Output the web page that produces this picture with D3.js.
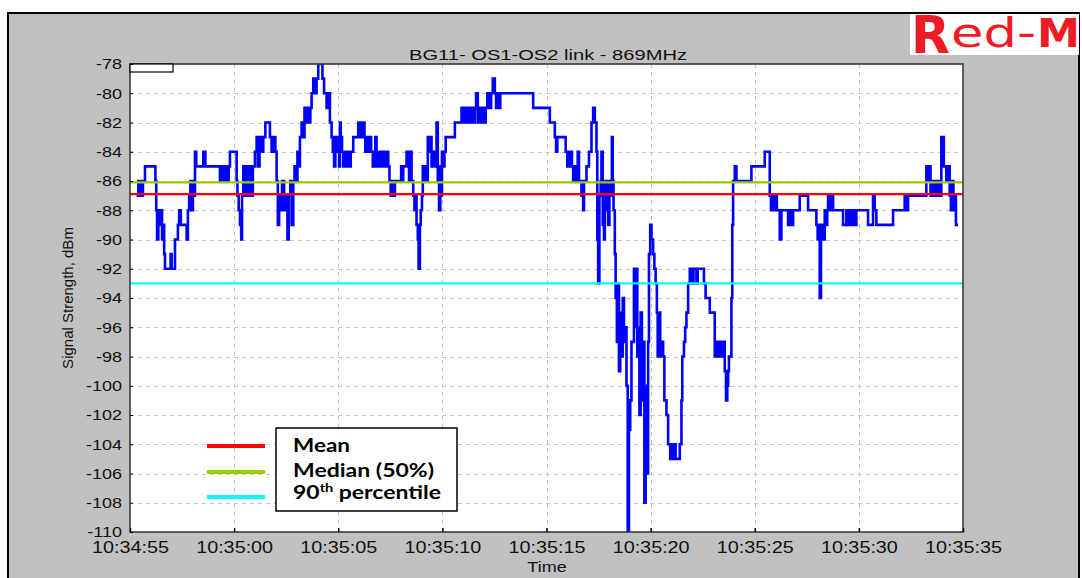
<!DOCTYPE html>
<html>
<head>
<meta charset="utf-8">
<script src="https://cdn.jsdelivr.net/npm/d3@7"></script>
<style>
  html, body { margin: 0; padding: 0; background: #ffffff; }
  svg { display: block; }
</style>
</head>
<body>
<svg id="chart" width="1082" height="578" font-family="'Liberation Sans', Arial, sans-serif"></svg>
<script>
// ---------------- DATA ----------------
const chartTitle = "BG11- OS1-OS2 link - 869MHz";
const yAxisTitle = "Signal Strength, dBm";
const xAxisTitle = "Time";
const startTime = "10:34:55";
const xTickLabels = ["10:34:55","10:35:00","10:35:05","10:35:10","10:35:15","10:35:20","10:35:25","10:35:30","10:35:35"];
const yTickValues = [-78,-80,-82,-84,-86,-88,-90,-92,-94,-96,-98,-100,-102,-104,-106,-108,-110];

// seconds after 10:34:55
const sampleSeconds = [
0.32,0.40,0.44,0.52,0.56,0.62,0.72,1.22,1.26,1.30,1.36,1.42,1.48,1.54,1.60,1.64,1.68,1.95,2.00,2.16,
2.30,2.36,2.44,2.72,2.78,2.84,2.90,2.96,3.02,3.08,3.12,3.18,3.52,3.62,4.32,4.38,4.44,4.50,4.56,4.62,
4.68,4.74,4.80,5.12,5.16,5.22,5.28,5.34,5.38,5.44,5.52,5.58,5.68,5.74,5.84,5.90,6.00,6.08,6.14,6.22,
6.30,6.40,6.50,6.72,6.80,6.90,6.98,7.04,7.10,7.16,7.22,7.30,7.40,7.50,7.56,7.62,7.70,7.76,7.84,7.90,
7.96,8.04,8.10,8.16,8.24,8.32,8.38,8.46,8.52,8.58,8.66,8.72,8.80,8.90,8.96,9.04,9.24,9.32,9.44,9.52,
9.60,9.68,9.74,9.80,9.86,9.96,10.04,10.08,10.12,10.18,10.24,10.30,10.36,10.44,10.52,10.60,10.72,10.96,11.02,11.14,
11.18,11.22,11.26,11.30,11.36,11.42,11.50,11.58,11.66,11.72,11.78,11.84,11.90,11.96,12.02,12.10,12.18,12.26,12.34,12.40,
12.46,12.52,12.60,12.66,12.72,13.02,13.08,13.12,13.28,13.34,13.40,13.46,13.52,13.60,13.66,13.72,13.76,13.82,13.86,13.92,
13.96,14.02,14.06,14.12,14.18,14.24,14.30,14.38,14.44,14.48,14.56,14.62,14.68,14.72,14.78,14.84,14.90,14.94,14.98,15.04,
15.10,15.16,15.60,15.92,16.00,16.08,16.16,16.24,16.32,16.40,16.48,16.56,16.62,16.70,16.76,16.84,16.92,17.00,17.08,17.16,
17.28,17.34,17.42,17.52,17.58,17.64,17.72,17.78,19.36,20.16,20.40,20.46,20.52,20.92,21.00,21.04,21.10,21.16,21.22,21.28,
21.36,21.42,21.50,21.56,21.68,21.76,21.80,21.92,22.04,22.16,22.24,22.32,22.40,22.44,22.48,22.54,22.60,22.64,22.70,22.76,
22.80,22.84,22.90,22.96,23.02,23.08,23.14,23.18,23.22,23.28,23.32,23.38,23.44,23.48,23.54,23.60,23.66,23.72,23.78,23.84,
23.90,23.96,24.02,24.08,24.20,24.28,24.32,24.36,24.42,24.46,24.52,24.58,24.64,24.70,24.76,24.82,24.88,24.92,24.98,25.04,
25.12,25.18,25.24,25.30,25.34,25.40,25.46,25.52,25.60,25.66,25.76,25.84,25.94,26.00,26.06,26.14,26.20,26.40,26.48,26.52,
26.60,26.66,26.72,26.80,26.88,27.00,27.06,27.20,27.26,27.56,27.64,27.84,28.08,28.14,28.24,28.30,28.40,28.46,28.56,28.62,
28.68,28.72,28.76,28.88,28.92,28.96,29.04,29.12,29.84,30.48,30.72,30.78,30.88,30.94,31.00,31.06,31.20,31.28,31.60,31.70,
31.74,31.84,32.16,32.56,32.96,33.02,33.08,33.12,33.18,33.24,33.30,33.36,33.42,33.48,33.52,33.60,33.66,33.76,34.24,34.40,
34.48,34.56,34.64,34.72,34.80,34.88,35.44,35.68,35.76,35.84,36.64,37.20,37.28,37.36,38.24,38.30,38.36,38.44,38.48,38.54,
38.64,38.70,38.80,38.88,38.96,39.08,39.20,39.26,39.36,39.42,39.48,39.54,39.60,39.66,39.76
];
const signalDbm = [
-87,-86,-87,-86,-87,-86,-85,-86,-88,-90,-88,-89,-88,-90,-89,-91,-92,-91,-92,-90,
-89,-88,-89,-90,-88,-87,-86,-88,-86,-87,-84,-85,-84,-85,-86,-85,-86,-85,-86,-85,
-86,-85,-84,-86,-87,-88,-89,-90,-87,-85,-87,-85,-87,-85,-87,-85,-84,-83,-85,-83,
-84,-83,-82,-83,-84,-83,-84,-86,-89,-87,-88,-86,-88,-87,-90,-87,-86,-89,-86,-85,
-86,-84,-85,-83,-82,-83,-81,-82,-81,-82,-81,-80,-79,-80,-79,-78,-79,-80,-81,-80,
-82,-83,-84,-85,-83,-84,-85,-82,-83,-84,-85,-84,-85,-84,-85,-84,-83,-82,-83,-82,
-83,-82,-83,-84,-83,-84,-83,-84,-85,-84,-83,-85,-84,-85,-84,-85,-84,-85,-84,-85,
-86,-87,-86,-87,-86,-85,-86,-85,-84,-85,-86,-84,-86,-87,-88,-87,-89,-90,-92,-89,
-88,-87,-85,-86,-85,-86,-83,-84,-83,-85,-84,-85,-84,-82,-86,-88,-85,-87,-84,-85,
-84,-83,-82,-81,-82,-81,-82,-81,-82,-81,-82,-81,-80,-82,-81,-82,-81,-82,-81,-80,
-81,-80,-79,-80,-81,-80,-81,-80,-81,-82,-83,-84,-83,-84,-85,-84,-85,-84,-85,-86,
-85,-86,-84,-86,-87,-88,-86,-85,-84,-82,-81,-82,-84,-90,-93,-87,-86,-84,-89,-90,
-86,-88,-86,-89,-86,-87,-83,-86,-88,-91,-94,-97,-93,-99,-95,-98,-94,-97,-96,-100,
-110,-103,-101,-97,-92,-96,-92,-98,-96,-102,-95,-101,-97,-108,-100,-106,-97,-91,-89,-90,
-91,-92,-93,-95,-98,-95,-98,-97,-98,-101,-102,-104,-105,-104,-105,-104,-105,-104,-101,-98,
-97,-96,-95,-93,-92,-93,-92,-93,-92,-93,-94,-95,-98,-97,-98,-97,-98,-97,-99,-101,
-100,-99,-98,-94,-89,-86,-85,-86,-85,-84,-87,-88,-87,-88,-87,-88,-90,-88,-89,-88,
-89,-88,-87,-88,-89,-90,-89,-94,-90,-89,-90,-88,-89,-88,-87,-88,-87,-88,-89,-88,
-89,-88,-89,-88,-89,-88,-89,-87,-88,-89,-88,-87,-88,-87,-85,-86,-85,-87,-86,-87,
-86,-87,-86,-87,-83,-85,-86,-85,-87,-88,-86,-88,-87,-89,-89
];

const refNames  = ["Mean", "Median (50%)", "90th percentile"];
const refValues = [-86.9, -86.1, -93.0];
const refColors = ["#ff0000", "#99cc00", "#00ffff"];

// ---------------- LAYOUT ----------------
const svg = d3.select("#chart");
const W = 1082, H = 578;
const plot = { left: 130, top: 64, right: 963, bottom: 532 };

function stretch(sel, k) {
  sel.each(function () {
    const w = this.getComputedTextLength();
    d3.select(this).attr("textLength", w * k).attr("lengthAdjust", "spacingAndGlyphs");
  });
}

// outer frame
svg.append("rect").attr("x", 0).attr("y", 0).attr("width", W).attr("height", H).attr("fill", "#ffffff");
svg.append("rect").attr("x", 8).attr("y", 13).attr("width", 1071).attr("height", 600)
  .attr("fill", "#c0c0c0").attr("stroke", "#000").attr("stroke-width", 2);

// logo
svg.append("rect").attr("x", 910).attr("y", 14).attr("width", 169).attr("height", 41).attr("fill", "#ffffff");
const logo = svg.append("g").attr("fill", "#ee1c25").attr("font-family", "'DejaVu Sans', 'Liberation Sans', sans-serif");
logo.append("text").attr("x", 911).attr("y", 53).attr("font-size", 52).attr("font-weight", "bold")
  .attr("textLength", 39).attr("lengthAdjust", "spacingAndGlyphs").text("R");
logo.append("text").attr("x", 951).attr("y", 47).attr("font-size", 41)
  .attr("textLength", 85).attr("lengthAdjust", "spacingAndGlyphs").text("ed-");
logo.append("text").attr("x", 1037).attr("y", 47).attr("font-size", 39).attr("font-weight", "bold")
  .attr("textLength", 43).attr("lengthAdjust", "spacingAndGlyphs").text("M");

// scales
const parseT = d3.timeParse("%H:%M:%S");
const t0 = parseT(startTime);
const tickDates = xTickLabels.map(parseT);
const x = d3.scaleTime().domain([tickDates[0], tickDates[tickDates.length - 1]]).range([plot.left, plot.right]);
const y = d3.scaleLinear().domain([d3.min(yTickValues), d3.max(yTickValues)]).range([plot.bottom, plot.top]);

// plot background
svg.append("rect").attr("x", plot.left).attr("y", plot.top)
  .attr("width", plot.right - plot.left).attr("height", plot.bottom - plot.top).attr("fill", "#ffffff");

// grid
const grid = svg.append("g").attr("stroke", "#c4c4c4").attr("stroke-width", 1).attr("stroke-dasharray", "4,4");
grid.selectAll("line.gx").data(tickDates.slice(1, -1)).enter().append("line")
  .attr("x1", d => Math.round(x(d)) + 0.5).attr("x2", d => Math.round(x(d)) + 0.5)
  .attr("y1", plot.top).attr("y2", plot.bottom);
grid.selectAll("line.gy").data(yTickValues.slice(1, -1)).enter().append("line")
  .attr("x1", plot.left).attr("x2", plot.right)
  .attr("y1", d => Math.round(y(d)) + 0.5).attr("y2", d => Math.round(y(d)) + 0.5);

// clip
svg.append("clipPath").attr("id", "clip").append("rect")
  .attr("x", plot.left).attr("y", plot.top).attr("width", plot.right - plot.left).attr("height", plot.bottom - plot.top);

// data line
const series = sampleSeconds.map((s, i) => ({ t: d3.timeMillisecond.offset(t0, Math.round(s * 1000)), v: signalDbm[i] }));
const line = d3.line().x(d => x(d.t)).y(d => y(d.v)).curve(d3.curveStepAfter);
svg.append("path").datum(series).attr("clip-path", "url(#clip)")
  .attr("d", line).attr("fill", "none").attr("stroke", "#0000ff").attr("stroke-width", 2.6)
  .attr("stroke-linejoin", "miter");

// reference lines
svg.append("g").selectAll("line").data(refValues).enter().append("line")
  .attr("x1", plot.left).attr("x2", plot.right)
  .attr("y1", d => y(d)).attr("y2", d => y(d))
  .attr("stroke", (d, i) => refColors[i]).attr("stroke-width", 2.2);

// frame of plot
svg.append("rect").attr("x", plot.left).attr("y", plot.top)
  .attr("width", plot.right - plot.left).attr("height", plot.bottom - plot.top)
  .attr("fill", "none").attr("stroke", "#3a3a3a").attr("stroke-width", 1.6);

// small box top-left
svg.append("rect").attr("x", plot.left).attr("y", plot.top).attr("width", 43).attr("height", 8)
  .attr("fill", "#ffffff").attr("stroke", "#000").attr("stroke-width", 1.2);

// axes
const xAxis = d3.axisBottom(x).tickValues(tickDates).tickFormat((d, i) => xTickLabels[i]).tickSizeInner(-4).tickSizeOuter(0);
const gx = svg.append("g").attr("transform", `translate(0,${plot.bottom})`).call(xAxis);
gx.select(".domain").remove();
gx.attr("font-family", null).attr("font-size", null);
gx.selectAll(".tick line").attr("stroke", "#000").attr("stroke-width", 1.5);
gx.selectAll(".tick text").attr("font-size", 16).attr("fill", "#111").attr("y", 21).attr("dy", "0")
  .attr("textLength", 77).attr("lengthAdjust", "spacingAndGlyphs");

const yAxis = d3.axisLeft(y).tickValues(yTickValues).tickFormat(d3.format("d")).tickSizeInner(-3).tickSizeOuter(0).tickPadding(8);
const gy = svg.append("g").attr("transform", `translate(${plot.left},0)`).call(yAxis);
gy.select(".domain").remove();
gy.attr("font-family", null).attr("font-size", null);
gy.selectAll(".tick line").attr("stroke", "#000");
gy.selectAll(".tick text").attr("font-size", 15).attr("fill", "#111")
  .text(d => String(d).replace("\u2212", "-"));
stretch(gy.selectAll(".tick text"), 1.2);

// titles
const title = svg.append("text").attr("x", 548).attr("y", 60).attr("text-anchor", "middle")
  .attr("font-size", 15).attr("fill", "#111").text(chartTitle);
title.attr("textLength", 278).attr("lengthAdjust", "spacingAndGlyphs");

const xt = svg.append("text").attr("x", 547).attr("y", 572).attr("text-anchor", "middle")
  .attr("font-size", 15).attr("fill", "#111").text(xAxisTitle);
stretch(xt, 1.2);

svg.append("text").attr("transform", "translate(73,298) rotate(-90)").attr("text-anchor", "middle")
  .attr("font-size", 15).attr("fill", "#111").text(yAxisTitle);

// legend
const legBox = { x: 276, y: 428, w: 181, h: 83 };
svg.append("rect").attr("x", legBox.x).attr("y", legBox.y).attr("width", legBox.w).attr("height", legBox.h)
  .attr("fill", "#ffffff").attr("stroke", "#000").attr("stroke-width", 1.5);
const legYs = [446, 472, 497];
const legTextYs = [452, 477, 499];
const legWidths = [57, 141, 148];
const leg = svg.append("g").attr("font-family", "Lato, 'Open Sans', sans-serif");
refNames.forEach((name, i) => {
  leg.append("line").attr("x1", 207).attr("x2", 265).attr("y1", legYs[i]).attr("y2", legYs[i])
    .attr("stroke", refColors[i]).attr("stroke-width", 4);
  const t = leg.append("text").attr("x", 293).attr("y", legTextYs[i])
    .attr("font-weight", "bold").attr("font-size", 19).attr("fill", "#000");
  if (name.startsWith("90th")) {
    t.append("tspan").text("90");
    t.append("tspan").attr("font-size", 12).attr("dy", -7).text("th");
    t.append("tspan").attr("dy", 7).text(" percentile");
  } else {
    t.text(name);
  }
  t.attr("textLength", legWidths[i]).attr("lengthAdjust", "spacingAndGlyphs");
});
</script>
</body>
</html>
